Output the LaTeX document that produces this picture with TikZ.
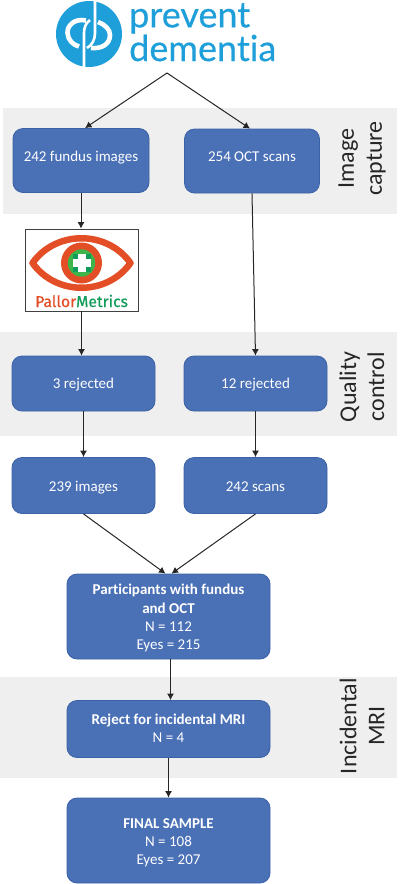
\documentclass[tikz,border=0pt]{standalone}
\usepackage{fontspec}
\setmainfont[Ligatures=NoCommon]{Carlito}
\newfontfamily\logofont[FakeBold=0.4,Ligatures=NoCommon]{Lato}
\newfontfamily\pmfont[FakeBold=0.5]{Fira Sans}
\usetikzlibrary{arrows.meta}
\definecolor{bandgrey}{HTML}{EFEFEF}
\definecolor{boxblue}{HTML}{4A70B6}
\definecolor{boxedge}{HTML}{3A62A6}
\definecolor{logoblue}{HTML}{1F9FD9}
\definecolor{pmred}{HTML}{E34E26}
\definecolor{pmgreen}{HTML}{0F9B58}
\definecolor{pmlight}{HTML}{3DB54A}
\newcommand{\droplines}[2]{\vbox{\vskip#1\hbox{\begin{tabular}{@{}c@{}}#2\end{tabular}}}}
\newcommand{\liftlines}[2]{\vbox{\hbox{\begin{tabular}{@{}c@{}}#2\end{tabular}}\vskip#1}}
\tikzset{
  band/.style={fill=bandgrey,draw=none},
  stagebox/.style={draw=boxedge,line width=0.8pt,fill=boxblue,rounded corners=10pt,text=white,align=center,font=\fontsize{15}{18.3}\selectfont,inner sep=0pt},
  sidelabel/.style={rotate=90,align=center,font=\fontsize{24}{28}\selectfont,text=black!85},
  flow/.style={draw=black!85,line width=1pt,-{Latex[length=6.5pt,width=7pt]}},
  ring/.style={draw=white,line width=4.6pt},
  stem/.style={draw=white,line width=2.6pt},
}
\begin{document}
\begin{tikzpicture}[x=1pt,y=-1pt]
\useasboundingbox (0,0) rectangle (400,884);
\fill[band] (3,108) rectangle (397,214);
\fill[band] (0,332) rectangle (397,436);
\fill[band] (0,677) rectangle (397,778);

% logo
\fill[logoblue] (89,34) circle (33);
\draw[ring] (86,20.5) .. controls (74,18) and (67,26) .. (67.5,33) .. controls (68,40) and (73,45) .. (79,46.5);
\draw[ring] (98,22) .. controls (106,25) and (110,30) .. (110,35) .. controls (110,44) and (102,49) .. (91,48);
\draw[stem] (95,-1) -- (95,33) .. controls (95,40) and (92,45) .. (87,48);
\draw[stem] (84,68) -- (84,33) .. controls (84,27) and (86,23) .. (90,20);
\node[anchor=north west,inner sep=0pt,align=left,text=logoblue,font=\logofont\fontsize{36}{29}\selectfont] (lg) at (129,3) {prevent\\dementia};
\coordinate (split) at (167,73);

% boxes
\node[stagebox,minimum width=136pt,minimum height=64pt] (fundus) at (81,160.5) {\liftlines{6pt}{242 fundus images}};
\node[stagebox,minimum width=135pt,minimum height=64pt] (oct) at (252,161) {\liftlines{6pt}{254 OCT scans}};
\node[draw=black!75,line width=0.8pt,fill=white,minimum width=113pt,minimum height=82pt,inner sep=0pt] (pm) at (81.5,270) {};
\draw[pmred,line width=6.5pt,line join=round] (32.5,263) .. controls (56,230) and (107,230) .. (130.5,263) .. controls (107,296) and (56,296) .. cycle;
\fill[pmred] (81.5,263) circle (20.5);
\fill[pmlight] (81.5,263) circle (13.7);
\fill[pmgreen] (72.5,254) rectangle (90.5,272);
\fill[white] (77.5,254) rectangle (85.5,272);
\fill[white] (72.5,259) rectangle (90.5,267);
\node[anchor=base west,inner sep=0pt,font=\pmfont\fontsize{15.7}{16}\selectfont] (pmtext) at (35,307) {\textcolor{pmred}{Pallor}\textcolor{pmgreen}{Metrics}};

\node[stagebox,minimum width=143pt,minimum height=55pt] (rej3) at (83.5,383.5) {\droplines{3pt}{3 rejected}};
\node[stagebox,minimum width=143pt,minimum height=55pt] (rej12) at (255.5,383.5) {\droplines{3pt}{12 rejected}};
\node[stagebox,minimum width=143pt,minimum height=56pt] (img) at (83.5,485.5) {\droplines{4pt}{239 images}};
\node[stagebox,minimum width=143pt,minimum height=56pt] (scan) at (255.5,485.5) {\droplines{4pt}{242 scans}};
\node[stagebox,minimum width=203pt,minimum height=85pt] (part) at (168.5,616.5) {\droplines{4pt}{\textbf{Participants with fundus}\\\textbf{and OCT}\\N = 112\\Eyes = 215}};
\node[stagebox,minimum width=203pt,minimum height=57pt] (mri) at (168.5,729) {\droplines{2pt}{\textbf{Reject for incidental MRI}\\N = 4}};
\node[stagebox,minimum width=203pt,minimum height=85pt] (final) at (168.5,840.5) {\droplines{5pt}{\textbf{FINAL SAMPLE}\\N = 108\\Eyes = 207}};

% side labels
\node[sidelabel] (l1) at (362,158.5) {Image\\capture};
\node[sidelabel] (l2) at (362,387) {Quality\\control};
\node[sidelabel] (l3) at (362,726) {Incidental\\MRI};

% connectors
\draw[flow] (split) -- ([xshift=4pt]fundus.north);
\draw[flow] (split) -- ([xshift=-2pt]oct.north);
\draw[flow] (fundus.south) -- (fundus.south |- pm.north);
\draw[flow] (pm.south) -- (pm.south |- rej3.north);
\draw[flow] (oct.south) -- (rej12.north);
\draw[flow] (rej3.south) -- (img.north);
\draw[flow] (rej12.south) -- (scan.north);
\draw[flow] (img.south) -- ([xshift=-3pt]part.north);
\draw[flow] (scan.south) -- ([xshift=3pt]part.north);
\draw[flow] ([xshift=2pt]part.south) -- ([xshift=2pt]mri.north);
\draw[flow] (mri.south) -- (final.north);
\end{tikzpicture}
\end{document}
